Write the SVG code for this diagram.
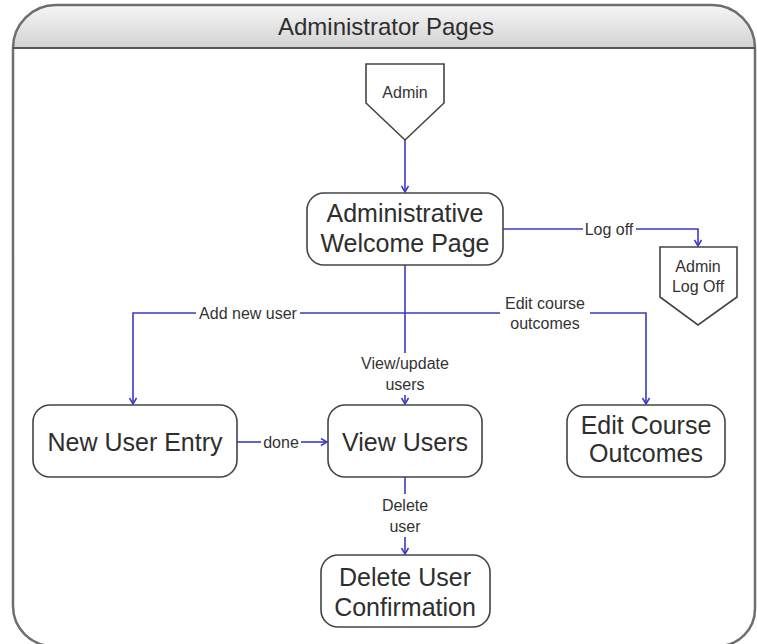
<svg xmlns="http://www.w3.org/2000/svg" width="757" height="644" viewBox="0 0 757 644">
<defs>
<linearGradient id="hdr" x1="0" y1="0" x2="0" y2="1">
<stop offset="0" stop-color="#f6f6f6"/>
<stop offset="1" stop-color="#d2d2d2"/>
</linearGradient>
<marker id="arr" markerWidth="10" markerHeight="10" refX="7" refY="4" orient="auto" markerUnits="userSpaceOnUse">
<path d="M1,0.5 L7,4 L1,7.5" fill="none" stroke="#3a3ac6" stroke-width="1.5"/>
</marker>
<style>
.node{fill:#ffffff;stroke:#444444;stroke-width:1.6}
.big{font-family:"Liberation Sans",Arial,sans-serif;font-size:25px;fill:#2e2e2e;text-anchor:middle}
.lbl{font-family:"Liberation Sans",Arial,sans-serif;font-size:16px;fill:#333333;text-anchor:middle}
.con{fill:none;stroke:#3a3ac6;stroke-width:1.6}
</style>
</defs>
<rect width="757" height="644" fill="#ffffff"/>
<g id="container">
<path d="M13,48 A43,43 0 0 1 56,5 L712,5 A43,43 0 0 1 755,48 Z" fill="url(#hdr)"/>
<path d="M13,48 A43,43 0 0 1 56,5 L712,5 A43,43 0 0 1 755,48 L755,609 A37,37 0 0 1 718,646 L53,646 A40,40 0 0 1 13,606 Z" fill="none" stroke="#6e6e6e" stroke-width="2.5"/>
<line x1="13" y1="48" x2="755" y2="48" stroke="#555555" stroke-width="1.8"/>
<text x="386" y="35" font-family="'Liberation Sans',Arial,sans-serif" font-size="24" fill="#2e2e2e" text-anchor="middle">Administrator Pages</text>
</g>
<g id="connectors">
<path class="con" d="M405,140 L405,192" marker-end="url(#arr)"/>
<path class="con" d="M503,229 L583,229"/>
<path class="con" d="M636,229 L698,229 L698,246" marker-end="url(#arr)"/>
<path class="con" d="M405,265 L405,353"/>
<path class="con" d="M405,395 L405,404" marker-end="url(#arr)"/>
<path class="con" d="M405,313 L300,313"/>
<path class="con" d="M196,313 L133,313 L133,404" marker-end="url(#arr)"/>
<path class="con" d="M405,313 L500,313"/>
<path class="con" d="M590,313 L646,313 L646,404" marker-end="url(#arr)"/>
<path class="con" d="M237,442 L261,442"/>
<path class="con" d="M301,442 L327,442" marker-end="url(#arr)"/>
<path class="con" d="M405,477 L405,494"/>
<path class="con" d="M405,537 L405,554" marker-end="url(#arr)"/>
<text class="lbl" x="609" y="235">Log off</text>
<text class="lbl" x="248" y="319">Add new user</text>
<text class="lbl" x="545" y="309">Edit course</text>
<text class="lbl" x="545" y="329">outcomes</text>
<text class="lbl" x="405" y="369">View/update</text>
<text class="lbl" x="405" y="390">users</text>
<text class="lbl" x="281" y="448">done</text>
<text class="lbl" x="405" y="511">Delete</text>
<text class="lbl" x="405" y="532">user</text>
</g>
<g id="admin">
<polygon class="node" points="366,64 444,64 444,103 405,140 366,103"/>
<text class="lbl" x="405" y="98">Admin</text>
</g>
<g id="admin-log-off">
<polygon class="node" points="660,247 737,247 737,297 698,325 660,297"/>
<text class="lbl" x="698" y="272">Admin</text>
<text class="lbl" x="698" y="292">Log Off</text>
</g>
<g id="welcome">
<rect class="node" x="307" y="193" width="196" height="72" rx="17"/>
<text class="big" x="405" y="222">Administrative</text>
<text class="big" x="405" y="252">Welcome Page</text>
</g>
<g id="new-user-entry">
<rect class="node" x="33" y="405" width="204" height="72" rx="17"/>
<text class="big" x="135" y="451">New User Entry</text>
</g>
<g id="view-users">
<rect class="node" x="328" y="405" width="154" height="72" rx="17"/>
<text class="big" x="405" y="451">View Users</text>
</g>
<g id="edit-course-outcomes">
<rect class="node" x="567" y="405" width="158" height="72" rx="17"/>
<text class="big" x="646" y="434">Edit Course</text>
<text class="big" x="646" y="462">Outcomes</text>
</g>
<g id="delete-user-confirmation">
<rect class="node" x="321" y="555" width="169" height="72" rx="17"/>
<text class="big" x="405" y="586">Delete User</text>
<text class="big" x="405" y="616">Confirmation</text>
</g>
</svg>
